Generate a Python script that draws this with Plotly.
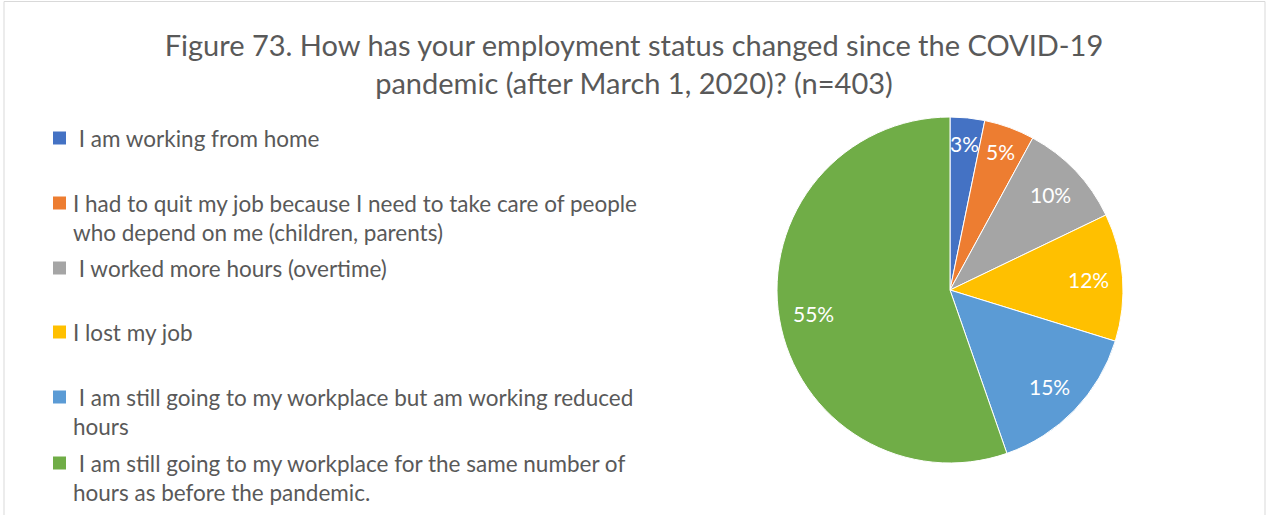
import math
import plotly.graph_objects as go

W, H = 1268, 515
FONT = "Lato"
TEXT_GREY = "#595959"

labels = [
    "I am working from home",
    "I had to quit my job because I need to take care of people who depend on me (children, parents)",
    "I worked more hours (overtime)",
    "I lost my job",
    "I am still going to my workplace but am working reduced hours",
    "I am still going to my workplace for the same number of hours as before the pandemic.",
]
# legend text as it wraps in the original (nbsp = the stray leading space Excel shows)
legend_text = [
    "\u00a0I am working from home",
    "I had to quit my job because I need to take care of people<br>who depend on me (children, parents)",
    "\u00a0I worked more hours (overtime)",
    "I lost my job",
    "\u00a0I am still going to my workplace but am working reduced<br>hours",
    "\u00a0I am still going to my workplace for the same number of<br>hours as before the pandemic.",
]
counts = [13, 19, 40, 48, 60, 223]  # n=403
colors = ["#4472C4", "#ED7D31", "#A5A5A5", "#FFC000", "#5B9BD5", "#70AD47"]

# pie placement (pixels)
CX, CY, R = 950, 290, 173

fig = go.Figure(
    go.Pie(
        labels=labels,
        values=counts,
        sort=False,
        direction="clockwise",
        rotation=0,
        textinfo="none",
        hoverinfo="label+percent",
        marker=dict(colors=colors, line=dict(color="white", width=1)),
        domain=dict(
            x=[(CX - R) / W, (CX + R) / W],
            y=[1 - (CY + R) / H, 1 - (CY - R) / H],
        ),
        showlegend=False,
    )
)

# percentage labels, placed at the middle angle of each slice
total = sum(counts)
cum = 0
for v in counts:
    mid = (cum + v / 2) / total * 2 * math.pi
    cum += v
    rr = 0.85 * R if v / total < 0.06 else 0.8 * R
    px_ = CX + rr * math.sin(mid)
    py_ = CY - rr * math.cos(mid)
    fig.add_annotation(
        x=px_ / W,
        y=1 - py_ / H,
        xref="paper",
        yref="paper",
        xanchor="center",
        yanchor="middle",
        text=f"{round(v / total * 100)}%",
        showarrow=False,
        font=dict(family=FONT, size=21, color="white"),
    )

# hand-built legend to keep Excel's uneven spacing
legend_y = [138, 203, 268, 332, 397, 463]
for txt, col, ly in zip(legend_text, colors, legend_y):
    fig.add_shape(
        type="rect",
        xref="paper",
        yref="paper",
        x0=53 / W,
        x1=66 / W,
        y0=1 - (ly + 6.5) / H,
        y1=1 - (ly - 6.5) / H,
        fillcolor=col,
        line=dict(width=0),
    )
    fig.add_annotation(
        x=71 / W,
        y=1 - (ly - 15) / H,
        xref="paper",
        yref="paper",
        xanchor="left",
        yanchor="top",
        align="left",
        text=txt,
        showarrow=False,
        font=dict(family=FONT, size=22.5, color=TEXT_GREY),
    )

# chart border
fig.add_shape(
    type="rect",
    xref="paper",
    yref="paper",
    x0=4 / W,
    x1=1265 / W,
    y0=-0.05,
    y1=1 - 1.5 / H,
    line=dict(color="#D9D9D9", width=1),
    fillcolor="rgba(0,0,0,0)",
)

fig.update_layout(
    width=W,
    height=H,
    title=dict(
        text="Figure 73. How has your employment status changed since the COVID-19<br>pandemic (after March 1, 2020)? (n=403)",
        x=0.5,
        xanchor="center",
        y=1 - 56 / H,
        yanchor="middle",
        font=dict(family=FONT, size=29, color=TEXT_GREY),
    ),
    margin=dict(l=0, r=0, t=0, b=0),
    paper_bgcolor="white",
    plot_bgcolor="white",
)

fig.write_html(
    "out.html",
    config={"displayModeBar": False},
    post_script="document.body.style.margin='0';",
)
